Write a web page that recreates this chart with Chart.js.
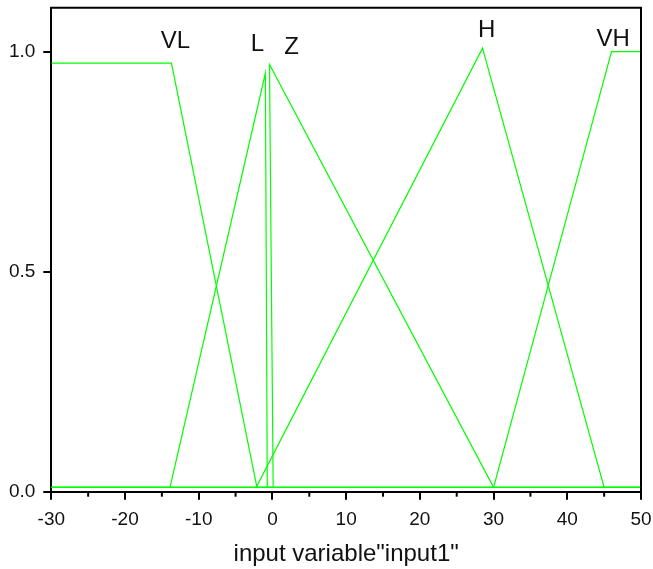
<!DOCTYPE html>
<html>
<head>
<meta charset="utf-8">
<script src="https://cdn.jsdelivr.net/npm/chart.js@4.4.0/dist/chart.umd.min.js"></script>
<style>
  html, body { margin: 0; padding: 0; background: #fff; }
  #wrap { width: 653px; height: 569px; }
</style>
</head>
<body>
<div id="wrap"><canvas id="mfChart"></canvas></div>
<script>
// membership functions of input1 (x value, degree)
const vlX = [-30, -13.7, -2.1, 50];
const vlY = [0.974, 0.974, 0.01, 0.01];
const lX = [-30, -13.9, -0.96, -0.7, 50];
const lY = [0.01, 0.01, 0.951, 0.01, 0.01];
const zX = [-30, 0.1, -0.4, 30, 50];
const zY = [0.01, 0.01, 0.971, 0.01, 0.01];
const hX = [-30, -2.2, 28.5, 45, 50];
const hY = [0.01, 0.01, 1.008, 0.01, 0.01];
const vhX = [-30, 30, 46, 50];
const vhY = [0.01, 0.01, 1.0, 1.0];

// names written over each function
const mfNames = ['VL', 'L', 'Z', 'H', 'VH'];
const nameX = [-13.15, -2.03, 2.61, 29.07, 46.24];
const nameY = [1.024, 1.017, 1.010, 1.048, 1.029];

const xTicks = [-30, -20, -10, 0, 10, 20, 30, 40, 50];
const xMinorTicks = [-25, -15, -5, 5, 15, 25, 35, 45];
const yTicks = [0, 0.5, 1.0];

const FONT = '"Liberation Sans", Arial, sans-serif';

function toPoints(xs, ys) {
    return xs.map((x, i) => ({ x: x, y: ys[i] }));
}

function mfDataset(label, xs, ys) {
    return {
        label: label,
        data: toPoints(xs, ys),
        showLine: true,
        borderColor: '#00ff00',
        borderWidth: 1.2,
        pointRadius: 0,
        tension: 0,
        fill: false,
    };
}

// frame, minor ticks and the function names
const extrasPlugin = {
    id: 'extras',
    afterDraw(chart) {
        const ctx = chart.ctx;
        const area = chart.chartArea;
        const xs = chart.scales.x;
        const ys = chart.scales.y;
        ctx.save();
        ctx.strokeStyle = '#000';
        ctx.lineWidth = 2;
        ctx.beginPath();
        ctx.moveTo(area.left - 1, area.top);
        ctx.lineTo(area.right, area.top);
        ctx.lineTo(area.right, area.bottom);
        ctx.stroke();

        xMinorTicks.forEach(v => {
            const px = xs.getPixelForValue(v);
            ctx.beginPath();
            ctx.moveTo(px, area.bottom);
            ctx.lineTo(px, area.bottom + 5);
            ctx.stroke();
        });

        ctx.fillStyle = '#111';
        ctx.font = '24px ' + FONT;
        ctx.textAlign = 'center';
        ctx.textBaseline = 'middle';
        mfNames.forEach((name, i) => {
            ctx.fillText(name, xs.getPixelForValue(nameX[i]), ys.getPixelForValue(nameY[i]));
        });
        ctx.restore();
    }
};

const ctx = document.getElementById('mfChart').getContext('2d');
new Chart(ctx, {
    type: 'scatter',
    data: {
        datasets: [
            mfDataset('VL', vlX, vlY),
            mfDataset('L', lX, lY),
            mfDataset('Z', zX, zY),
            mfDataset('H', hX, hY),
            mfDataset('VH', vhX, vhY),
        ]
    },
    options: {
        responsive: true,
        maintainAspectRatio: false,
        animation: false,
        devicePixelRatio: 1,
        layout: { padding: { top: 7.7, right: 12, left: 0, bottom: 0 } },
        plugins: {
            legend: { display: false },
            tooltip: { enabled: false },
        },
        scales: {
            x: {
                type: 'linear',
                min: -30,
                max: 50,
                afterBuildTicks: scale => { scale.ticks = xTicks.map(v => ({ value: v })); },
                afterFit: scale => {
                    scale.height = 77.3;
                    scale.paddingLeft = 0;
                    scale.paddingRight = 0;
                },
                ticks: {
                    color: '#111',
                    font: { family: FONT, size: 19 },
                    padding: 9,
                    maxRotation: 0,
                    autoSkip: false,
                },
                grid: {
                    drawOnChartArea: false,
                    drawTicks: true,
                    tickLength: 8,
                    color: '#000',
                    lineWidth: 2,
                },
                border: { display: true, color: '#000', width: 2 },
                title: {
                    display: true,
                    text: 'input variable"input1"',
                    color: '#111',
                    font: { family: FONT, size: 24 },
                    padding: { top: 0, bottom: 0 },
                },
            },
            y: {
                type: 'linear',
                min: 0,
                max: 1.1,
                afterBuildTicks: scale => { scale.ticks = yTicks.map(v => ({ value: v })); },
                afterFit: scale => {
                    scale.width = 51.3;
                    scale.paddingTop = 0;
                    scale.paddingBottom = 0;
                },
                ticks: {
                    color: '#111',
                    font: { family: FONT, size: 19 },
                    padding: 8,
                    callback: v => v.toFixed(1),
                },
                grid: {
                    drawOnChartArea: false,
                    drawTicks: true,
                    tickLength: 8,
                    color: '#000',
                    lineWidth: 2,
                },
                border: { display: true, color: '#000', width: 2 },
            },
        },
    },
    plugins: [extrasPlugin],
});
</script>
</body>
</html>
